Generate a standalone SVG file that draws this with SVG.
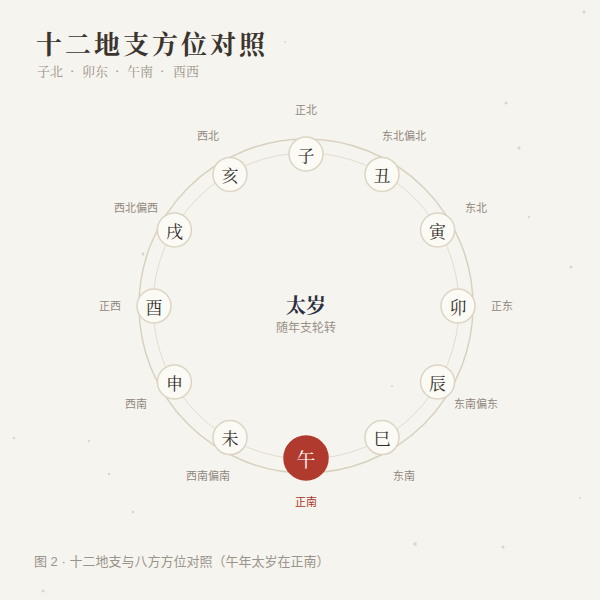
<svg xmlns="http://www.w3.org/2000/svg" width="600" height="600" viewBox="0 0 600 600">
<style>
.title{font-family:"Noto Serif CJK SC","Liberation Serif","Noto Sans CJK SC",serif;font-weight:700;font-size:26px;fill:#3b352e;letter-spacing:3px}
.sub{font-family:"Noto Serif CJK SC","Liberation Serif","Noto Sans CJK SC",serif;font-size:13px;fill:#9a9186}
.node circle{fill:#fbfaf5;stroke:#dcd5c5;stroke-width:1.5}
.node text{font-family:"Noto Serif CJK SC","Liberation Serif","Noto Sans CJK SC",serif;font-size:17px;fill:#2e2a26;text-anchor:middle;dominant-baseline:central}
.lbl{font-family:"Liberation Sans","Noto Sans CJK SC",sans-serif;font-size:11px;fill:#8f887e;text-anchor:middle;dominant-baseline:central}
.speck{fill:#b8b2a6;opacity:0.45}
</style>
<rect width="600" height="600" fill="#f6f4ee"/>
<g id="specks">
<circle class="speck" cx="584" cy="12" r="1.5"/><circle class="speck" cx="519" cy="148" r="1.5"/><circle class="speck" cx="506" cy="103" r="1.5"/><circle class="speck" cx="529" cy="217" r="1.2"/><circle class="speck" cx="571" cy="267" r="1.5"/><circle class="speck" cx="14" cy="438" r="1.2"/><circle class="speck" cx="89" cy="441" r="1.2"/><circle class="speck" cx="109" cy="474" r="1.2"/><circle class="speck" cx="133" cy="512" r="1.2"/><circle class="speck" cx="415" cy="544" r="1.8"/><circle class="speck" cx="503" cy="547" r="1.5"/><circle class="speck" cx="43" cy="591" r="1.5"/><circle class="speck" cx="285" cy="42" r="1"/><circle class="speck" cx="143" cy="254" r="1.5"/><circle class="speck" cx="392" cy="386" r="1"/><circle class="speck" cx="580" cy="498" r="1"/>
</g>
<text class="title" x="36" y="54">十二地支方位对照</text>
<text class="sub" y="76"><tspan x="37">子北</tspan><tspan x="70">·</tspan><tspan x="82">卯东</tspan><tspan x="115">·</tspan><tspan x="127">午南</tspan><tspan x="160">·</tspan><tspan x="173">酉西</tspan></text>
<g id="connectors" fill="none">
<circle cx="306" cy="306" r="167" stroke="#d9d1c0" stroke-width="1.5"/>
<circle cx="306" cy="306" r="153" stroke="#e3ddd0" stroke-width="1"/>
</g>
<g id="center">
<text x="306" y="304" text-anchor="middle" dominant-baseline="central" font-family="Noto Serif CJK SC,Liberation Serif,Noto Sans CJK SC,serif" font-weight="700" font-size="20" fill="#2a2f40">太岁</text>
<text x="306" y="328" text-anchor="middle" dominant-baseline="central" font-family="Liberation Sans,Noto Sans CJK SC,sans-serif" font-size="12" fill="#9a9186">随年支轮转</text>
</g>
<g id="labels">
<text class="lbl" x="306" y="110">正北</text>
<text class="lbl" x="404" y="136">东北偏北</text>
<text class="lbl" x="476" y="208">东北</text>
<text class="lbl" x="502" y="306">正东</text>
<text class="lbl" x="476" y="404">东南偏东</text>
<text class="lbl" x="404" y="476">东南</text>
<text class="lbl" x="306" y="502" style="fill:#a8372c">正南</text>
<text class="lbl" x="208" y="476">西南偏南</text>
<text class="lbl" x="136" y="404">西南</text>
<text class="lbl" x="110" y="306">正西</text>
<text class="lbl" x="136" y="208">西北偏西</text>
<text class="lbl" x="208" y="136">西北</text>
</g>
<g id="node-zi" class="node"><circle cx="306" cy="154" r="17"/><text x="306" y="154">子</text></g>
<g id="node-chou" class="node"><circle cx="382" cy="174.4" r="17"/><text x="382" y="174.4">丑</text></g>
<g id="node-yin" class="node"><circle cx="437.6" cy="230" r="17"/><text x="437.6" y="230">寅</text></g>
<g id="node-mao" class="node"><circle cx="458" cy="306" r="17"/><text x="458" y="306">卯</text></g>
<g id="node-chen" class="node"><circle cx="437.6" cy="382" r="17"/><text x="437.6" y="382">辰</text></g>
<g id="node-si" class="node"><circle cx="382" cy="437.6" r="17"/><text x="382" y="437.6">巳</text></g>
<g id="node-wu" class="node"><circle cx="306" cy="458" r="22" style="fill:#b03a2e;stroke:#b03a2e"/><text x="306" y="458" style="fill:#ffffff;font-size:19px">午</text></g>
<g id="node-wei" class="node"><circle cx="230" cy="437.6" r="17"/><text x="230" y="437.6">未</text></g>
<g id="node-shen" class="node"><circle cx="174.4" cy="382" r="17"/><text x="174.4" y="382">申</text></g>
<g id="node-you" class="node"><circle cx="154" cy="306" r="17"/><text x="154" y="306">酉</text></g>
<g id="node-xu" class="node"><circle cx="174.4" cy="230" r="17"/><text x="174.4" y="230">戌</text></g>
<g id="node-hai" class="node"><circle cx="230" cy="174.4" r="17"/><text x="230" y="174.4">亥</text></g>
<text x="34" y="566" font-family="Liberation Sans,Noto Sans CJK SC,sans-serif" font-size="13" fill="#9a958c">图 2 · 十二地支与八方方位对照（午年太岁在正南）</text>
</svg>
